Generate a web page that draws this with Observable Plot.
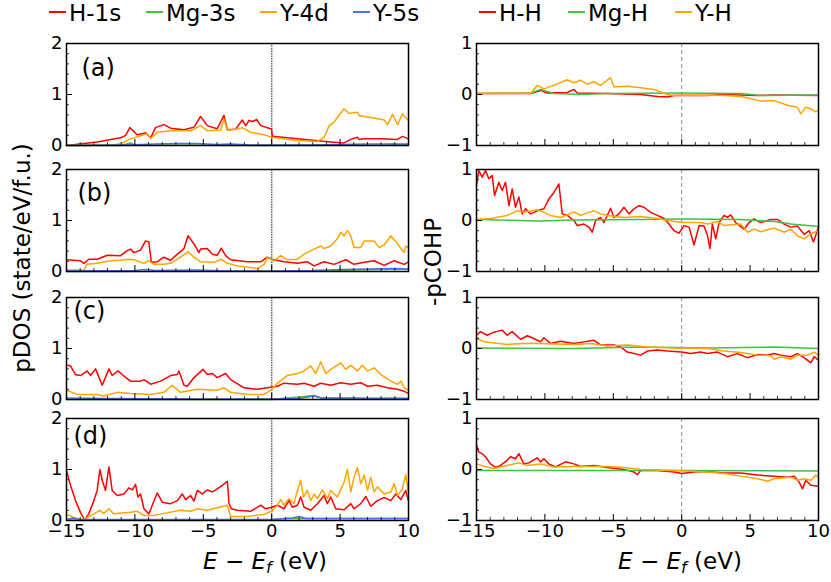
<!DOCTYPE html>
<html><head><meta charset="utf-8">
<script src="https://cdn.jsdelivr.net/npm/d3@7"></script>
<script src="https://cdn.jsdelivr.net/npm/@observablehq/plot@0.6"></script>
<style>
body{margin:0;background:#fff;}
#chart{position:relative;width:831px;height:582px;overflow:hidden;font-family:"DejaVu Sans",sans-serif;}
#chart svg{position:absolute;}
</style></head><body><div id="chart"></div>
<script>
// ---------- tick values ----------
const energyTicks = [-15, -10, -5, 0, 5, 10];
const energyMinorTicks = [-14,-13,-12,-11,-9,-8,-7,-6,-4,-3,-2,-1,1,2,3,4,6,7,8,9];
const dosTicks = [0, 1, 2];
const dosMinorTicks = [0.2,0.4,0.6,0.8,1.2,1.4,1.6,1.8];
const cohpTicks = [-1, 0, 1];
const cohpMinorTicks = [-0.8,-0.6,-0.4,-0.2,0.2,0.4,0.6,0.8];
const panelLabels = ["(a)", "(b)", "(c)", "(d)"];
const dosNames = ["H-1s", "Mg-3s", "Y-4d", "Y-5s"];
const cohpNames = ["H-H", "Mg-H", "Y-H"];

// ---------- pDOS data [E - Ef (eV), state/eV/f.u.] ----------
const dosA_H1s = [[-15,0],[-12.76,0.07],[-11.05,0.15],[-10.68,0.2],[-10.37,0.35],[-9.83,0.21],[-9.34,0.24],[-9.22,0.25],[-8.85,0.15],[-8.49,0.35],[-7.88,0.41],[-7.39,0.34],[-6.41,0.31],[-5.68,0.36],[-5.2,0.57],[-4.71,0.39],[-3.98,0.33],[-3.49,0.59],[-3.24,0.31],[-2.63,0.32],[-2.15,0.5],[-1.9,0.39],[-1.66,0.49],[-1.41,0.47],[-1.1,0.51],[-0.8,0.39],[-0.56,0.37],[-0.2,0.34],[-0.02,0.33],[0.05,0.18],[1.88,0.13],[4.32,0.07],[5.29,0.05],[5.78,0.12],[6.27,0.16],[6.39,0.12],[6.76,0.13],[7.98,0.13],[9.2,0.12],[9.56,0.18],[10,0.13]];
const dosA_Mg3s = [[-15,0],[-11,0],[-10.6,0.03],[-10.32,0.05],[-10.0,0.01],[-5,0.005],[0,0],[8.5,0.01],[8.95,0.03],[9.3,0.01],[10,0.02]];
const dosA_Y4d = [[-15,0],[-11.5,0.01],[-10.8,0.06],[-10.56,0.1],[-10.32,0.13],[-9.34,0.21],[-9.1,0.23],[-8.85,0.14],[-8.37,0.26],[-7.39,0.29],[-5.93,0.29],[-5.2,0.39],[-4.71,0.29],[-3.73,0.3],[-3.49,0.52],[-3.24,0.3],[-2.39,0.33],[-2.15,0.35],[-1.54,0.26],[-0.56,0.21],[0,0.16],[1.88,0.1],[3.34,0.08],[3.83,0.16],[4.2,0.39],[4.56,0.46],[5.29,0.72],[5.66,0.63],[6.27,0.65],[6.39,0.59],[6.76,0.57],[7.49,0.54],[8.22,0.5],[8.46,0.41],[8.83,0.61],[9.2,0.41],[9.56,0.62],[10,0.49]];
const dosA_Y5s = [[-15,0],[-11,0.01],[-9.5,0.02],[-8.5,0.03],[-7,0.04],[-5.5,0.04],[-4,0.02],[-3,0.03],[-1.5,0.01],[0,0.01],[3,0.01],[5,0.02],[7,0.03],[9,0.03],[10,0.03]];

const dosB_H1s = [[-15,0.23],[-13.98,0.21],[-13.73,0.16],[-13.37,0.24],[-12.76,0.24],[-12.02,0.32],[-11.05,0.31],[-10.56,0.41],[-10.32,0.44],[-10.07,0.37],[-9.59,0.42],[-9.22,0.6],[-8.98,0.58],[-8.8,0.18],[-8.37,0.19],[-7.88,0.28],[-7.39,0.22],[-6.9,0.34],[-6.41,0.45],[-6.12,0.7],[-5.68,0.54],[-5.32,0.37],[-5.2,0.44],[-4.71,0.45],[-4.34,0.34],[-3.98,0.32],[-3.68,0.46],[-3.37,0.31],[-3,0.23],[-1.78,0.19],[-0.8,0.19],[-0.32,0.28],[0,0.24],[0.9,0.19],[1.88,0.16],[2.61,0.19],[3.1,0.11],[3.83,0.19],[4.56,0.14],[5.41,0.23],[6.02,0.14],[6.76,0.18],[7.49,0.21],[8.22,0.12],[8.95,0.21],[9.68,0.14],[10,0.19]];
const dosB_Mg3s = [[-15,0],[-5,0.005],[0,0.005],[4,0.01],[6,0.03],[8,0.04],[9.5,0.05],[10,0.04]];
const dosB_Y4d = [[-15,0.03],[-13.73,0.03],[-13.49,0.14],[-12.76,0.16],[-11.78,0.21],[-11.05,0.22],[-10.56,0.24],[-10.07,0.23],[-9.34,0.16],[-8.98,0.21],[-8.61,0.14],[-7.88,0.14],[-7.39,0.16],[-6.66,0.28],[-6.12,0.39],[-5.68,0.28],[-5.2,0.19],[-4.22,0.18],[-3.68,0.24],[-3.24,0.16],[-2.51,0.11],[-1.05,0.06],[-0.56,0.14],[-0.32,0.28],[0.17,0.21],[0.66,0.31],[1.15,0.23],[1.88,0.24],[2.37,0.34],[3.1,0.44],[3.59,0.5],[3.83,0.45],[4.32,0.5],[4.8,0.64],[5.05,0.77],[5.29,0.7],[5.54,0.8],[5.78,0.7],[6.02,0.47],[6.51,0.47],[6.76,0.6],[7.49,0.6],[7.85,0.47],[8.22,0.52],[8.71,0.7],[9.2,0.54],[9.68,0.37],[9.8,0.5],[10,0.47]];
const dosB_Y5s = [[-15,0.01],[-10,0.02],[-9.2,0.04],[-8.5,0.02],[-5.5,0.03],[-3,0.01],[0,0.01],[3,0.02],[5,0.04],[7,0.05],[9,0.06],[10,0.05]];

const dosC_H1s = [[-15,0.67],[-14.71,0.66],[-14.34,0.49],[-13.98,0.47],[-13.49,0.56],[-13.24,0.47],[-12.88,0.6],[-12.39,0.28],[-11.9,0.6],[-11.66,0.47],[-11.24,0.56],[-10.8,0.46],[-10.32,0.36],[-9.59,0.36],[-9.34,0.39],[-8.85,0.3],[-8.12,0.36],[-7.39,0.47],[-6.9,0.49],[-6.78,0.56],[-6.41,0.28],[-6.17,0.26],[-5.68,0.43],[-5.02,0.59],[-4.71,0.49],[-4.34,0.51],[-3.98,0.43],[-3.37,0.51],[-3,0.39],[-2.02,0.23],[-1.05,0.2],[-0.32,0.23],[0.41,0.26],[0.9,0.32],[1.88,0.3],[2.37,0.32],[3.1,0.26],[3.59,0.32],[4.32,0.28],[5.05,0.33],[5.78,0.3],[6.51,0.33],[7.0,0.26],[7.73,0.28],[8.46,0.23],[9.2,0.2],[9.68,0.16],[10,0.12]];
const dosC_Mg3s = [[-15,0],[0,0],[0.5,0.01],[1,0.03],[2,0.05],[3.1,0.08],[3.5,0.04],[5,0.02],[7,0.02],[9,0.03],[10,0.02]];
const dosC_Y4d = [[-15,0.18],[-14.22,0.1],[-12.76,0.1],[-12.27,0.07],[-11.29,0.14],[-10.32,0.12],[-8.85,0.1],[-7.88,0.14],[-7.27,0.28],[-6.66,0.14],[-5.44,0.2],[-3.98,0.18],[-3.49,0.23],[-3.0,0.14],[-1.78,0.1],[-0.56,0.1],[-0.07,0.18],[0.41,0.32],[1.15,0.47],[1.88,0.51],[2.37,0.56],[2.85,0.66],[3.22,0.51],[3.59,0.74],[3.95,0.51],[4.32,0.59],[5.05,0.72],[5.41,0.59],[5.78,0.67],[6.27,0.56],[6.63,0.67],[7.0,0.56],[7.49,0.62],[7.98,0.49],[8.71,0.36],[9.2,0.3],[9.44,0.36],[9.68,0.23],[10,0.18]];
const dosC_Y5s = [[-15,0.03],[-12,0.02],[-5,0.01],[0,0.01],[2,0.02],[3.1,0.07],[3.6,0.03],[6,0.03],[8,0.02],[10,0.02]];

const dosD_H1s = [[-15,0.98],[-14.71,0.69],[-14.34,0.39],[-13.98,0.16],[-13.68,0.01],[-13.37,0.13],[-13,0.39],[-12.76,0.59],[-12.56,1.0],[-12.39,0.79],[-12.15,0.59],[-11.9,1.05],[-11.66,0.59],[-11.29,0.49],[-10.8,0.52],[-10.44,0.64],[-10.2,0.6],[-9.95,0.71],[-9.78,0.46],[-9.59,0.52],[-9.34,0.23],[-8.98,0.13],[-8.73,0.3],[-8.37,0.54],[-8.0,0.36],[-7.39,0.33],[-6.9,0.39],[-6.54,0.52],[-6.29,0.41],[-5.93,0.49],[-5.68,0.38],[-5.44,0.59],[-5.07,0.52],[-4.71,0.6],[-4.34,0.56],[-3.98,0.62],[-3.61,0.69],[-3.24,0.77],[-3.12,0.33],[-2.95,0.23],[-2.51,0.2],[-1.54,0.18],[-0.8,0.3],[-0.44,0.23],[0,0.26],[0.41,0.3],[0.9,0.23],[1.27,0.39],[1.51,0.26],[1.88,0.3],[2.12,0.46],[2.37,0.26],[2.85,0.2],[3.34,0.33],[3.83,0.49],[4.07,0.33],[4.32,0.46],[4.68,0.23],[5.29,0.21],[5.78,0.33],[6.02,0.23],[6.51,0.33],[6.88,0.47],[7.24,0.28],[7.73,0.39],[8.22,0.45],[8.71,0.39],[9.07,0.52],[9.44,0.41],[9.8,0.59],[10,0.38]];
const dosD_Mg3s = [[-15,0.01],[-10,0.01],[-3,0.01],[0,0.02],[1,0.04],[3,0.04],[6,0.04],[10,0.04]];
const dosD_Y4d = [[-15,0.12],[-14.22,0.03],[-13.73,0.02],[-13,0.13],[-12.56,0.2],[-12.27,0.14],[-11.9,0.23],[-11.54,0.13],[-10.32,0.16],[-9.83,0.18],[-9.34,0.1],[-8.61,0.1],[-7.88,0.14],[-6.66,0.2],[-5.93,0.18],[-5.44,0.23],[-4.71,0.2],[-3.98,0.25],[-3.24,0.3],[-3.0,0.08],[-1.78,0.08],[-0.56,0.12],[0,0.18],[0.41,0.3],[0.66,0.41],[0.9,0.3],[1.27,0.43],[1.63,0.33],[1.88,0.59],[2.12,0.79],[2.32,0.46],[2.61,0.59],[2.85,0.39],[3.1,0.52],[3.34,0.43],[3.71,0.6],[4.07,0.43],[4.32,0.59],[4.8,0.46],[5.29,0.75],[5.54,1.0],[5.78,0.56],[6.02,0.85],[6.27,1.04],[6.51,0.72],[6.76,0.89],[7.0,0.59],[7.24,0.85],[7.49,0.56],[7.73,0.66],[8.22,0.52],[8.71,0.56],[8.95,0.72],[9.2,0.49],[9.56,0.62],[9.8,0.9],[10,0.52]];
const dosD_Y5s = [[-15,0.02],[-14.5,0.05],[-14,0.02],[-10,0.02],[-5,0.02],[0,0.02],[1.5,0.05],[2,0.08],[2.5,0.04],[5,0.04],[8,0.04],[10,0.04]];

// ---------- -pCOHP data [E - Ef (eV), -pCOHP] ----------
const cohpA_HH = [[-15,0.02],[-11,0.02],[-10.56,0.06],[-10.32,0.08],[-9.83,0.03],[-8.37,0.04],[-7.88,0.1],[-7.63,0.03],[-5.44,0.02],[-3,0],[-1.78,-0.04],[-1.05,-0.05],[-0.56,-0.02],[0.66,-0.02],[1.88,-0.02],[3.1,0],[5.54,-0.02],[6.76,-0.01],[10,-0.02]];
const cohpA_MgH = [[-15,0.02],[-11,0.03],[-10.32,0.1],[-9.34,0.02],[-7.39,0],[-5.44,0.02],[-0.56,0.03],[4.32,0.02],[5.78,-0.02],[10,-0.01]];
const cohpA_YH = [[-15,0.02],[-11,0.03],[-10.56,0.18],[-10.07,0.11],[-9.34,0.18],[-8.37,0.29],[-7.88,0.23],[-7.39,0.28],[-6.9,0.2],[-6.41,0.25],[-5.93,0.18],[-5.2,0.33],[-4.95,0.15],[-3.98,0.16],[-3,0.13],[-2.02,0.1],[-1.05,0],[-0.56,-0.02],[0.66,-0.01],[3.1,-0.02],[4.32,-0.04],[5.05,-0.08],[5.78,-0.13],[6.76,-0.12],[7.73,-0.21],[8.46,-0.25],[8.71,-0.38],[9.07,-0.25],[9.44,-0.28],[9.8,-0.34],[10,-0.31]];

const cohpB_HH = [[-15,0.69],[-14.83,0.98],[-14.59,0.85],[-14.34,0.98],[-14.1,0.82],[-13.85,0.88],[-13.68,0.49],[-13.37,0.75],[-13.12,0.59],[-12.88,0.75],[-12.63,0.29],[-12.39,0.62],[-12.15,0.26],[-11.9,0.46],[-11.66,0.13],[-11.41,0.23],[-11.05,0.13],[-10.56,0.19],[-10.07,0.23],[-9.71,0.42],[-9.34,0.55],[-8.98,0.72],[-8.73,0.13],[-8.37,0.1],[-7.88,0],[-7.63,-0.1],[-7.15,-0.07],[-6.78,-0.13],[-6.54,-0.23],[-6.29,0],[-5.93,0.06],[-5.68,-0.04],[-5.2,0.24],[-4.95,0.06],[-4.59,0.13],[-4.22,0.26],[-3.85,0.13],[-3.49,0.23],[-3.12,0.29],[-2.76,0.26],[-2.27,0.16],[-1.78,0.1],[-1.29,0.04],[-0.93,-0.07],[-0.56,-0.2],[-0.2,-0.25],[0.17,-0.1],[0.54,-0.13],[0.9,-0.48],[1.27,-0.1],[1.63,-0.11],[1.88,-0.29],[2.07,-0.55],[2.24,-0.07],[2.49,-0.36],[2.73,-0.04],[3.1,0.1],[3.34,0.06],[3.59,0.11],[3.95,-0.04],[4.56,-0.17],[4.93,-0.04],[5.29,0.03],[5.78,-0.04],[6.51,0.02],[7.0,0.02],[7.49,-0.07],[7.98,-0.13],[8.46,-0.11],[8.95,-0.27],[9.32,-0.2],[9.63,-0.42],[10,-0.13]];
const cohpB_MgH = [[-15,0.02],[-10.32,-0.01],[-7.88,0.01],[-3,0.02],[0,0.03],[4.32,0.02],[6.76,-0.02],[7.98,-0.07],[9.2,-0.1],[10,-0.12]];
const cohpB_YH = [[-15,0.02],[-13.98,0.04],[-12.76,0.1],[-12.02,0.19],[-11.54,0.16],[-10.56,0.21],[-10.07,0.16],[-9.59,0.1],[-8.85,0.06],[-8.37,0.11],[-7.88,0.17],[-7.39,0.1],[-6.9,0.15],[-6.41,0.19],[-5.93,0.13],[-5.44,0.1],[-4.22,0.06],[-3,0.08],[-1.78,0.04],[-1.05,0],[0,-0.04],[1.39,-0.04],[1.88,-0.07],[2.61,-0.02],[3.1,-0.1],[4.32,-0.07],[4.8,-0.23],[5.29,-0.17],[5.78,-0.22],[6.27,-0.18],[6.76,-0.15],[7.49,-0.23],[7.98,-0.17],[8.46,-0.3],[8.95,-0.36],[9.44,-0.26],[10,-0.2]];

const cohpC_HH = [[-15,0.26],[-14.71,0.33],[-14.22,0.26],[-13.73,0.32],[-13.12,0.36],[-12.76,0.26],[-12.39,0.33],[-11.78,0.18],[-11.29,0.25],[-10.93,0.21],[-10.32,0.13],[-10.07,0.21],[-9.59,0.1],[-8.85,0.14],[-7.88,0.1],[-7.15,0.13],[-6.41,0.16],[-5.93,0.07],[-4.95,0.07],[-4.46,0.03],[-3.98,-0.07],[-3.49,-0.1],[-3,-0.13],[-2.51,-0.05],[-1.78,-0.03],[-1.05,-0.05],[0,-0.07],[0.66,-0.1],[1.39,-0.07],[1.88,-0.1],[2.61,-0.07],[3.34,-0.16],[4.07,-0.1],[4.8,-0.18],[5.54,-0.12],[6.27,-0.13],[6.76,-0.1],[7.24,-0.13],[7.98,-0.16],[8.46,-0.1],[8.95,-0.18],[9.44,-0.28],[9.68,-0.16],[10,-0.23]];
const cohpC_MgH = [[-15,0.01],[-7.88,0],[-3,0.03],[1.88,0.01],[6.76,0.03],[10,0]];
const cohpC_YH = [[-15,0.2],[-14.46,0.13],[-12.76,0.08],[-11.54,0.1],[-10.32,0.1],[-7.88,0.08],[-6.66,0.1],[-5.44,0.05],[-3.98,0.07],[-2.51,0.03],[-0.56,0.01],[1.88,0],[3.1,-0.05],[4.32,-0.08],[5.54,-0.13],[6.51,-0.14],[6.76,-0.21],[7.24,-0.16],[7.98,-0.21],[8.46,-0.13],[9.2,-0.13],[9.68,-0.07],[10,-0.13]];

const cohpD_HH = [[-15,0.48],[-14.83,0.34],[-14.59,0.31],[-14.34,0.25],[-13.98,0.11],[-13.61,0.04],[-13.24,0.08],[-12.76,0.18],[-12.51,0.25],[-12.15,0.21],[-11.9,0.31],[-11.54,0.11],[-11.17,0.13],[-10.56,0.23],[-10.32,0.15],[-10.07,0.21],[-9.71,0.11],[-9.22,0.05],[-8.49,0.15],[-7.88,0.11],[-7.39,0.06],[-6.41,0.08],[-5.44,0.04],[-4.22,0],[-3.49,-0.05],[-3.24,-0.1],[-3,-0.02],[-1.78,-0.02],[-0.56,-0.05],[0,-0.08],[0.9,-0.05],[1.88,-0.04],[3.1,-0.07],[4.32,-0.07],[5.54,-0.11],[6.76,-0.13],[7.73,-0.15],[8.22,-0.13],[8.59,-0.25],[8.83,-0.38],[9.07,-0.21],[9.44,-0.31],[10,-0.33]];
const cohpD_MgH = [[-15,-0.02],[0,-0.02],[10,-0.03]];
const cohpD_YH = [[-15,0.11],[-14.22,0.05],[-13.73,0.02],[-12.76,0.08],[-11.9,0.13],[-11.29,0.08],[-10.32,0.11],[-9.34,0.05],[-7.88,0.06],[-5.44,0.06],[-4.22,0.04],[-3,0],[-0.56,-0.02],[1.88,-0.05],[3.1,-0.08],[4.32,-0.13],[5.54,-0.18],[6.27,-0.23],[6.76,-0.18],[7.98,-0.15],[8.46,-0.21],[8.95,-0.18],[9.44,-0.21],[9.8,-0.11],[10,-0.15]];

// ---------- styles / layout ----------
const dosColors = ["#ff0000", "#3ec43e", "#ffa500", "#4a72e0"];
const cohpColors = ["#ff0000", "#3ec43e", "#ffa500"];
const FONT = "DejaVu Sans";
const FW = 342, FH = 102;
const frameTops = [43, 169, 297, 418];
const labelOffsets = [[15, 32], [11, 31], [7, 21], [7, 25]];

const dosPanels = [
  [dosA_H1s, dosA_Mg3s, dosA_Y4d, dosA_Y5s],
  [dosB_H1s, dosB_Mg3s, dosB_Y4d, dosB_Y5s],
  [dosC_H1s, dosC_Mg3s, dosC_Y4d, dosC_Y5s],
  [dosD_H1s, dosD_Mg3s, dosD_Y4d, dosD_Y5s]
];
const cohpPanels = [
  [cohpA_HH, cohpA_MgH, cohpA_YH],
  [cohpB_HH, cohpB_MgH, cohpB_YH],
  [cohpC_HH, cohpC_MgH, cohpC_YH],
  [cohpD_HH, cohpD_MgH, cohpD_YH]
];

const fmt = d => d < 0 ? "\u2212" + (-d) : String(d);
const chart = document.getElementById("chart");

function panel({series, colors, yDomain, yTicks, yMinor, bottom, label, labelOff, zero, ml, mr, left, top}) {
  const mt = 10, mb = bottom ? 44 : 10;
  const marks = [
    Plot.ruleX([0], {stroke: zero.stroke, strokeWidth: zero.width, strokeDasharray: zero.dash}),
    ...series.map((s, i) => Plot.line(s, {x: d => d[0], y: d => d[1], stroke: colors[i], strokeWidth: 1.5})),
    Plot.tickX(energyTicks, {x: d => d, insetTop: FH - 6, stroke: "black", strokeWidth: 1}),
    Plot.tickX(energyMinorTicks, {x: d => d, insetTop: FH - 3, stroke: "black", strokeWidth: 0.8}),
    Plot.tickY(yTicks, {y: d => d, insetRight: FW - 6, stroke: "black", strokeWidth: 1}),
    Plot.tickY(yMinor, {y: d => d, insetRight: FW - 3, stroke: "black", strokeWidth: 0.8}),
    Plot.axisY(yTicks, {tickSize: 0, tickPadding: 4, tickFormat: fmt, fontSize: 18, label: null}),
    Plot.frame({stroke: "black", strokeWidth: 1.5})
  ];
  if (bottom) marks.push(Plot.axisX(energyTicks, {tickSize: 0, tickPadding: 4, tickFormat: fmt, fontSize: 18, label: null}));
  if (label) marks.push(Plot.text([label], {text: d => d, frameAnchor: "top-left", textAnchor: "start", lineAnchor: "bottom", dx: labelOff[0], dy: labelOff[1], fontSize: 24, fill: "black"}));
  const svg = Plot.plot({
    width: ml + FW + mr, height: mt + FH + mb,
    marginLeft: ml, marginRight: mr, marginTop: mt, marginBottom: mb,
    style: {background: "transparent", fontFamily: FONT, fontSize: "18px", color: "black", overflow: "visible"},
    x: {domain: [-15, 10], axis: null},
    y: {domain: yDomain, axis: null},
    marks
  });
  svg.style.position = "absolute";
  svg.style.left = left + "px";
  svg.style.top = (top - mt) + "px";
  chart.appendChild(svg);
}

for (let r = 0; r < 4; r++) {
  panel({series: dosPanels[r], colors: dosColors, yDomain: [0, 2], yTicks: dosTicks, yMinor: dosMinorTicks,
    bottom: r === 3, label: panelLabels[r], labelOff: labelOffsets[r],
    zero: {stroke: "#666", width: 1.5, dash: "1.5,1"}, ml: 66, mr: 12, left: 0, top: frameTops[r]});
  panel({series: cohpPanels[r], colors: cohpColors, yDomain: [-1, 1], yTicks: cohpTicks, yMinor: cohpMinorTicks,
    bottom: r === 3, label: null, zero: {stroke: "#8a8a8a", width: 1, dash: "4,3"}, ml: 56, mr: 13, left: 420, top: frameTops[r]});
}

// ---------- overlay: legends and axis titles ----------
const ov = d3.select(chart).append("svg").attr("width", 831).attr("height", 582)
  .style("left", "0px").style("top", "0px").style("pointer-events", "none")
  .attr("font-family", FONT);

const legendLayout = [
  {names: dosNames, colors: dosColors, xs: [49, 146, 260, 353]},
  {names: cohpNames, colors: cohpColors, xs: [479, 568, 675]}
];
legendLayout.forEach(L => {
  L.names.forEach((n, i) => {
    ov.append("line").attr("x1", L.xs[i]).attr("x2", L.xs[i] + 17).attr("y1", 12).attr("y2", 12)
      .attr("stroke", L.colors[i]).attr("stroke-width", 2);
    ov.append("text").attr("x", L.xs[i] + 20).attr("y", 21).attr("font-size", 23).attr("fill", "black").text(n);
  });
});

ov.append("text").attr("transform", "translate(30,258) rotate(-90)").attr("text-anchor", "middle")
  .attr("font-size", 23).attr("fill", "black").text("pDOS (state/eV/f.u.)");
ov.append("text").attr("transform", "translate(441,262) rotate(-90)").attr("text-anchor", "middle")
  .attr("font-size", 23).attr("fill", "black").text("-pCOHP");

function xTitle(cx) {
  const t = ov.append("text").attr("x", cx).attr("y", 569).attr("text-anchor", "middle")
    .attr("font-size", 23).attr("fill", "black");
  t.append("tspan").attr("font-style", "italic").text("E");
  t.append("tspan").text(" \u2212 ");
  t.append("tspan").attr("font-style", "italic").text("E");
  t.append("tspan").attr("font-style", "italic").attr("font-size", 16).attr("dy", 4).text("f");
  t.append("tspan").attr("dy", -4).text(" (eV)");
}
xTitle(265);
xTitle(680);
</script></body></html>
